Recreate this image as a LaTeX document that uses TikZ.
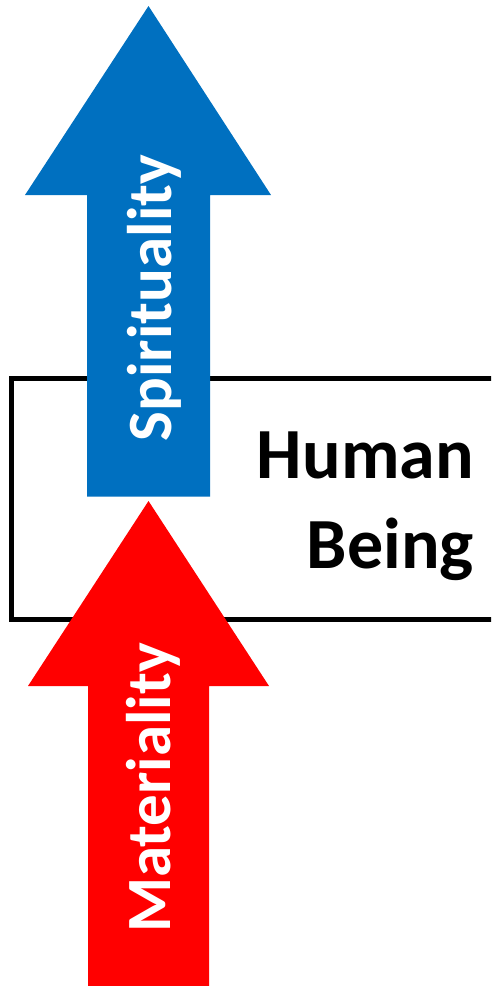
\documentclass[tikz,border=0pt]{standalone}
\usepackage{fontspec}
\setmainfont{Carlito}
\definecolor{spiritblue}{HTML}{0070C0}
\definecolor{matterred}{HTML}{FF0000}
\tikzset{
  upshaft/.style={draw=none},
  arrowlabel/.style={rotate=90, anchor=base, inner sep=0pt, text=white,
    font=\fontsize{63}{63}\selectfont\bfseries},
  boxlabel/.style={anchor=base east, inner sep=0pt,
    font=\fontsize{72}{90}\selectfont\bfseries},
  framebox/.style={draw=black, line width=5pt, fill=white}
}
\begin{document}
\begin{tikzpicture}[x=1pt,y=-1pt]
  \useasboundingbox (0,0) rectangle (491,986);
  \clip (0,0) rectangle (491,986);

  % frame around the "Human Being" label
  \draw[framebox] (11.7,378) rectangle (500,619);

  % upward arrow: spirituality
  \fill[spiritblue] (148.5,6) -- (271,195) -- (210,195) -- (210,496.5)
    -- (87,496.5) -- (87,195) -- (25,195) -- cycle;

  % upward arrow: materiality
  \fill[matterred] (148.5,501) -- (269,686) -- (209,686) -- (209,990)
    -- (88,990) -- (88,686) -- (28,686) -- cycle;

  \node[arrowlabel] (spirit) at (171.5,298) {Spirituality};
  \node[arrowlabel] (matter) at (170.5,788) {Materiality};

  \node[boxlabel] (human) at (474,478.3) {Human};
  \node[boxlabel] (being) at (474,568.3) {Being};
\end{tikzpicture}
\end{document}
